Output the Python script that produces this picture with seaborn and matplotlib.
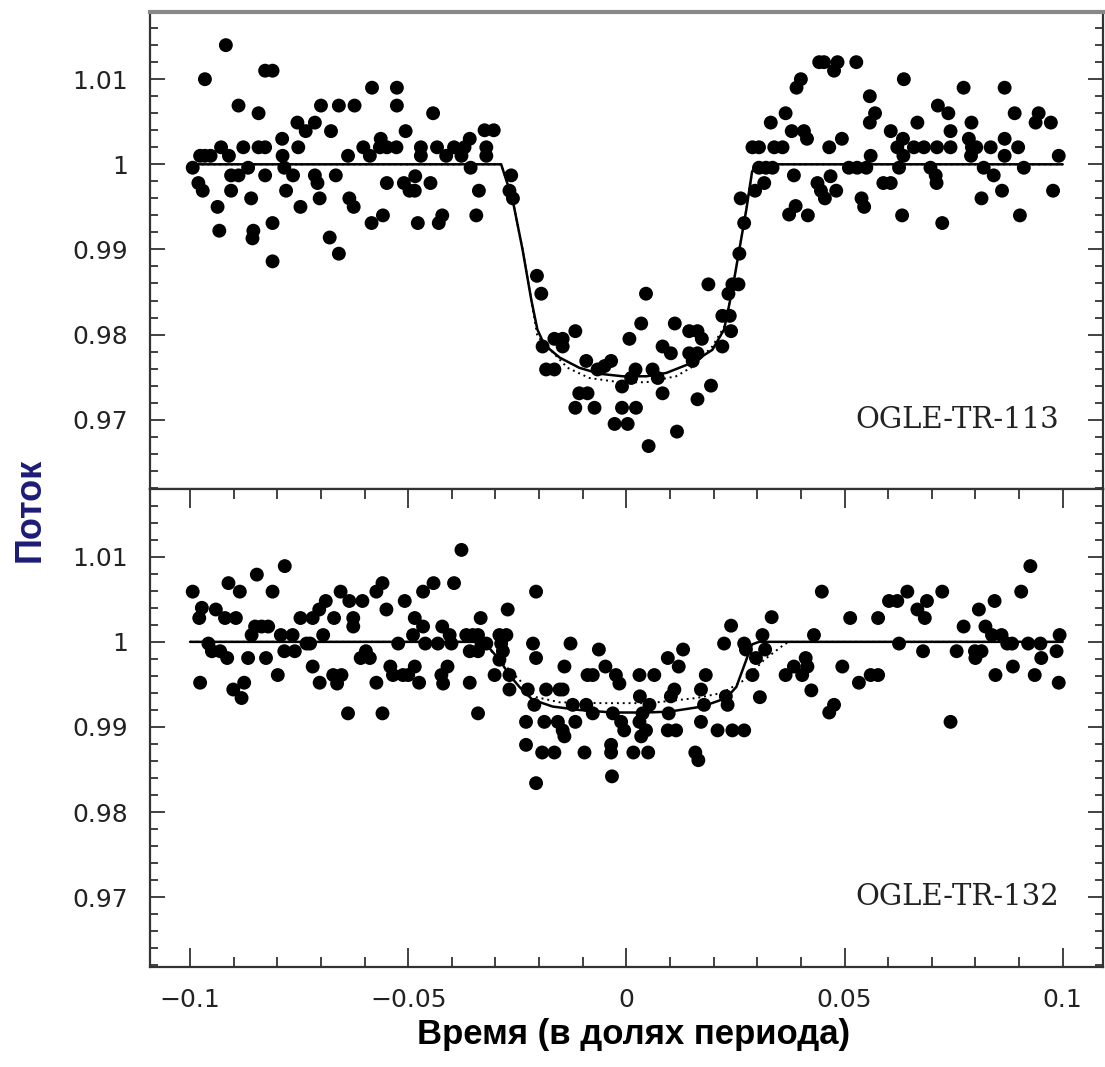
import numpy as np
import pandas as pd
import seaborn as sns
import matplotlib.pyplot as plt
from matplotlib.ticker import MultipleLocator, FuncFormatter

# OGLE-TR-113 photometry (phase, flux)
x_113 = [-0.0994, -0.0981, -0.0971, -0.0966, -0.0977, -0.0966, -0.0953, -0.0937, -0.0933, -0.0929,
         -0.0918, -0.0911, -0.0906, -0.0889, -0.0906, -0.0889, -0.0878, -0.0867, -0.0860, -0.0855,
         -0.0857, -0.0843, -0.0843, -0.0828, -0.0828, -0.0828, -0.0811, -0.0811, -0.0811, -0.0789,
         -0.0788, -0.0784, -0.0780, -0.0764, -0.0752, -0.0754, -0.0735, -0.0747, -0.0714, -0.0714,
         -0.0708, -0.0703, -0.0700, -0.0680, -0.0677, -0.0666, -0.0659, -0.0659, -0.0638, -0.0635,
         -0.0625, -0.0623, -0.0603, -0.0588, -0.0583, -0.0584, -0.0563, -0.0565, -0.0549, -0.0527,
         -0.0558, -0.0549, -0.0526, -0.0526, -0.0506, -0.0510, -0.0497, -0.0485, -0.0484, -0.0478,
         -0.0471, -0.0471, -0.0449, -0.0443, -0.0434, -0.0430, -0.0422, -0.0413, -0.0395, -0.0378,
         -0.0359, -0.0371, -0.0357, -0.0338, -0.0344, -0.0321, -0.0321, -0.0325, -0.0304,
         -0.0264, -0.0268, -0.0260, -0.0205, -0.0195, -0.0117, -0.0192, -0.0165, -0.0146, -0.0146,
         -0.0184, -0.0165, -0.0092, -0.0066, -0.0050, -0.0035, -0.0108, -0.0089, -0.0117, -0.0073,
         -0.0027, 0.0003, -0.0010, 0.0022, -0.0010, 0.0007, 0.0021, 0.0011, 0.0034, 0.0045,
         0.0051, 0.0060, 0.0072, 0.0083, 0.0083, 0.0102, 0.0111, 0.0116, 0.0144, 0.0163,
         0.0173, 0.0144, 0.0152, 0.0163, 0.0163, 0.0188, 0.0194, 0.0220, 0.0237, 0.0220,
         0.0240, 0.0234, 0.0243, 0.0257, 0.0259, 0.0270, 0.0262, 0.0295, 0.0316, 0.0304,
         0.0335, 0.0373, 0.0388, 0.0384,
         0.0289, 0.0304, 0.0339, 0.0358, 0.0320, 0.0331, 0.0365, 0.0379, 0.0390, 0.0400,
         0.0416, 0.0407, 0.0414, 0.0442, 0.0453, 0.0476, 0.0484, 0.0465, 0.0468, 0.0481,
         0.0438, 0.0446, 0.0455, 0.0494, 0.0527, 0.0510, 0.0529, 0.0550, 0.0539, 0.0545,
         0.0558, 0.0560, 0.0558, 0.0570, 0.0589, 0.0606, 0.0606, 0.0621, 0.0634, 0.0636,
         0.0625, 0.0635, 0.0632, 0.0667, 0.0659, 0.0682, 0.0697, 0.0709, 0.0711, 0.0714,
         0.0738, 0.0712, 0.0724, 0.0743, 0.0743, 0.0773, 0.0791, 0.0785, 0.0792, 0.0802,
         0.0790, 0.0819, 0.0814, 0.0835, 0.0842, 0.0861, 0.0867, 0.0867, 0.0867, 0.0898,
         0.0890, 0.0902, 0.0911, 0.0938, 0.0945, 0.0973, 0.0978, 0.0991]
f_113 = [0.9996, 0.9978, 0.9969, 1.0100, 1.0010, 1.0010, 1.0010, 0.9950, 0.9922, 1.0020,
         1.0140, 1.0010, 0.9987, 0.9987, 0.9969, 1.0069, 1.0020, 0.9996, 0.9960, 0.9922,
         0.9913, 1.0060, 1.0020, 1.0020, 0.9987, 1.0110, 1.0110, 0.9931, 0.9886, 1.0030,
         1.0010, 0.9996, 0.9969, 0.9987, 1.0020, 1.0049, 1.0039, 0.9950, 1.0049, 0.9987,
         0.9978, 0.9960, 1.0069, 0.9914, 1.0039, 0.9987, 1.0069, 0.9895, 1.0010, 0.9960,
         0.9950, 1.0069, 1.0020, 1.0010, 1.0090, 0.9931, 1.0030, 1.0020, 1.0020, 1.0020,
         0.9940, 0.9978, 1.0090, 1.0069, 1.0039, 0.9978, 0.9969, 0.9969, 0.9986, 0.9931,
         1.0020, 1.0010, 0.9978, 1.0060, 1.0020, 0.9931, 0.9940, 1.0010, 1.0020, 1.0010,
         1.0030, 1.0020, 0.9996, 0.9969, 0.9940, 1.0020, 1.0010, 1.0040, 1.0040,
         0.9987, 0.9969, 0.9960, 0.9869, 0.9848, 0.9804, 0.9786, 0.9795, 0.9795, 0.9786,
         0.9759, 0.9759, 0.9769, 0.9759, 0.9763, 0.9769, 0.9731, 0.9731, 0.9714, 0.9714,
         0.9695, 0.9695, 0.9714, 0.9714, 0.9739, 0.9795, 0.9759, 0.9749, 0.9813, 0.9848,
         0.9669, 0.9759, 0.9749, 0.9731, 0.9786, 0.9778, 0.9813, 0.9686, 0.9804, 0.9804,
         0.9795, 0.9778, 0.9769, 0.9778, 0.9724, 0.9859, 0.9740, 0.9822, 0.9822, 0.9786,
         0.9804, 0.9848, 0.9859, 0.9859, 0.9895, 0.9931, 0.9960, 0.9969, 0.9978, 0.9996,
         0.9996, 0.9941, 0.9951, 0.9987,
         1.0020, 1.0020, 1.0020, 1.0020, 0.9996, 1.0049, 1.0060, 1.0039, 1.0090, 1.0100,
         0.9940, 1.0039, 1.0030, 1.0120, 1.0120, 1.0110, 1.0120, 1.0020, 0.9986, 0.9969,
         0.9978, 0.9969, 0.9960, 1.0030, 1.0120, 0.9996, 0.9996, 0.9996, 0.9960, 0.9950,
         1.0080, 1.0010, 1.0049, 1.0060, 0.9978, 0.9978, 1.0039, 1.0020, 1.0030, 1.0100,
         0.9996, 1.0010, 0.9940, 1.0049, 1.0020, 1.0020, 0.9996, 0.9987, 0.9978, 1.0069,
         1.0060, 1.0020, 0.9931, 1.0039, 1.0020, 1.0090, 1.0049, 1.0030, 1.0020, 1.0020,
         1.0010, 0.9996, 0.9960, 1.0020, 0.9987, 0.9969, 1.0090, 1.0030, 1.0010, 1.0020,
         1.0060, 0.9940, 0.9996, 1.0049, 1.0060, 1.0049, 0.9969, 1.0010]

# OGLE-TR-132 photometry
x_132 = [-0.0994, -0.0977, -0.0973, -0.0979, -0.0958, -0.0950, -0.0931, -0.0941, -0.0920, -0.0895,
         -0.0912, -0.0915, -0.0886, -0.0901, -0.0882, -0.0876, -0.0867, -0.0847, -0.0859, -0.0851,
         -0.0836, -0.0821, -0.0826, -0.0811, -0.0799, -0.0792, -0.0784, -0.0765, -0.0760, -0.0783,
         -0.0747, -0.0733, -0.0725, -0.0719, -0.0719, -0.0704, -0.0689, -0.0703, -0.0695, -0.0670,
         -0.0672, -0.0653, -0.0663, -0.0655, -0.0638, -0.0635, -0.0626, -0.0626, -0.0605, -0.0609,
         -0.0597, -0.0588, -0.0573, -0.0559, -0.0573, -0.0559, -0.0550, -0.0541, -0.0535, -0.0512,
         -0.0500, -0.0485, -0.0523, -0.0508, -0.0485, -0.0489, -0.0466, -0.0475, -0.0466, -0.0461,
         -0.0442, -0.0432, -0.0422, -0.0405, -0.0401, -0.0424, -0.0420, -0.0410, -0.0395, -0.0378,
         -0.0367, -0.0352, -0.0340, -0.0359, -0.0340, -0.0332, -0.0321, -0.0359, -0.0340, -0.0334,
         -0.0302, -0.0291, -0.0275, -0.0287, -0.0283, -0.0291, -0.0272, -0.0268, -0.0268, -0.0226,
         -0.0230, -0.0230, -0.0207, -0.0211, -0.0207, -0.0214, -0.0207, -0.0184, -0.0153, -0.0146,
         -0.0188, -0.0157, -0.0146, -0.0142, -0.0117, -0.0193, -0.0165, -0.0142, -0.0128, -0.0123,
         -0.0092, -0.0077, -0.0096, -0.0089, -0.0077, -0.0063, -0.0048, -0.0024, -0.0016, -0.0031,
         -0.0005, -0.0012, -0.0035, -0.0035, -0.0033, 0.0016, 0.0050, 0.0030, 0.0064, 0.0031,
         0.0053, 0.0037, 0.0030, 0.0045, 0.0034, 0.0095, 0.0120, 0.0130, 0.0097, 0.0095,
         0.0114, 0.0110, 0.0102, 0.0158, 0.0165, 0.0171, 0.0171, 0.0178, 0.0182, 0.0209,
         0.0243, 0.0270, 0.0224, 0.0240, 0.0228, 0.0232, 0.0270, 0.0274, 0.0289, 0.0297,
         0.0306, 0.0312, 0.0318, 0.0333, 0.0365, 0.0384,
         0.0430, 0.0448, 0.0403, 0.0411, 0.0415, 0.0424, 0.0465, 0.0476, 0.0495, 0.0513,
         0.0533, 0.0560, 0.0577, 0.0577, 0.0602, 0.0621, 0.0625, 0.0644, 0.0667, 0.0684,
         0.0689, 0.0680, 0.0724, 0.0743, 0.0757, 0.0773, 0.0799, 0.0800, 0.0814, 0.0808,
         0.0823, 0.0844, 0.0838, 0.0860, 0.0846, 0.0873, 0.0884, 0.0886, 0.0905, 0.0926,
         0.0921, 0.0949, 0.0936, 0.0951, 0.0986, 0.0993, 0.0991]
f_132 = [1.0059, 0.9952, 1.0040, 1.0028, 0.9998, 0.9989, 0.9989, 1.0038, 1.0028, 1.0028,
         1.0069, 0.9981, 1.0059, 0.9944, 0.9934, 0.9952, 0.9981, 1.0079, 1.0008, 1.0018,
         1.0018, 1.0018, 0.9981, 1.0059, 0.9961, 1.0008, 0.9989, 1.0008, 0.9989, 1.0089,
         1.0028, 0.9998, 0.9998, 0.9971, 1.0028, 1.0038, 1.0048, 0.9952, 1.0008, 1.0028,
         0.9961, 0.9961, 0.9951, 1.0059, 0.9916, 1.0048, 1.0028, 1.0018, 1.0048, 0.9981,
         0.9989, 0.9981, 1.0059, 1.0069, 0.9952, 0.9916, 1.0038, 0.9971, 0.9961, 0.9961,
         0.9961, 0.9971, 0.9998, 1.0048, 1.0028, 1.0008, 1.0018, 0.9952, 1.0059, 0.9998,
         1.0069, 0.9998, 1.0018, 1.0008, 0.9998, 0.9961, 0.9951, 0.9971, 1.0069, 1.0108,
         1.0008, 1.0008, 1.0008, 0.9989, 0.9989, 0.9998, 0.9998, 0.9952, 0.9916, 1.0028,
         0.9961, 1.0008, 1.0008, 0.9998, 0.9989, 0.9979, 1.0038, 0.9961, 0.9944, 0.9944,
         0.9906, 0.9879, 0.9834, 0.9926, 1.0059, 0.9998, 0.9981, 0.9944, 0.9944, 0.9944,
         0.9906, 0.9906, 0.9896, 0.9889, 0.9906, 0.9870, 0.9870, 0.9971, 0.9998, 0.9926,
         0.9926, 0.9916, 0.9870, 0.9961, 0.9961, 0.9991, 0.9971, 0.9961, 0.9951, 0.9916,
         0.9896, 0.9906, 0.9879, 0.9870, 0.9842, 0.9870, 0.9870, 0.9961, 0.9961, 0.9936,
         0.9926, 0.9916, 0.9906, 0.9896, 0.9889, 0.9981, 0.9971, 0.9991, 0.9916, 0.9896,
         0.9896, 0.9944, 0.9936, 0.9870, 0.9861, 0.9944, 0.9906, 0.9926, 0.9961, 0.9896,
         0.9896, 0.9896, 0.9998, 1.0019, 0.9936, 0.9926, 0.9998, 0.9991, 0.9961, 0.9981,
         0.9935, 1.0008, 0.9991, 1.0029, 0.9961, 0.9971,
         1.0008, 1.0059, 0.9961, 0.9981, 0.9971, 0.9943, 0.9917, 0.9926, 0.9971, 1.0028,
         0.9952, 0.9961, 0.9961, 1.0028, 1.0048, 1.0048, 0.9998, 1.0059, 1.0038, 1.0028,
         1.0048, 0.9989, 1.0059, 0.9906, 0.9989, 1.0018, 0.9989, 0.9981, 0.9989, 1.0038,
         1.0018, 1.0048, 1.0008, 1.0008, 0.9961, 0.9998, 0.9998, 0.9971, 1.0059, 1.0089,
         0.9998, 0.9998, 0.9961, 0.9981, 0.9989, 1.0008, 0.9952]

# model curves (solid and dotted)
mx_113 = [-0.1, -0.0287, -0.0261, -0.0238, -0.0218, -0.0204, -0.0188, -0.0153, -0.0108, -0.0062,
          -0.0009, 0.0046, 0.0092, 0.0151, 0.0197, 0.0224, 0.0243, 0.0259, 0.0275, 0.0288, 0.0297, 0.1]
my_113 = [1.0, 1.0, 0.9959, 0.9900, 0.9841, 0.9806, 0.9788, 0.9773, 0.9761, 0.9754,
          0.9751, 0.9751, 0.9755, 0.9767, 0.9782, 0.9806, 0.9853, 0.9900, 0.9947, 0.9991, 1.0, 1.0]
dx_113 = [-0.1, -0.0287, -0.0261, -0.0238, -0.0218, -0.0204, -0.0135, -0.0085, -0.0016, 0.0046,
          0.0114, 0.0151, 0.0197, 0.0224, 0.0243, 0.0259, 0.0275, 0.0288, 0.0297, 0.1]
dy_113 = [1.0, 1.0, 0.9959, 0.9900, 0.9841, 0.9798, 0.9761, 0.9749, 0.9744, 0.9744,
          0.9751, 0.9762, 0.9786, 0.9809, 0.9853, 0.9900, 0.9947, 0.9991, 1.0, 1.0]

mx_132 = [-0.1, -0.0340, -0.0318, -0.0291, -0.0268, -0.0245, -0.0215, -0.0169, -0.0108, -0.0032,
          0.0046, 0.0098, 0.0174, 0.0229, 0.0252, 0.0275, 0.0288, 0.0304, 0.1]
my_132 = [1.0, 1.0, 0.9995, 0.9979, 0.9961, 0.9947, 0.9932, 0.9924, 0.9920, 0.9917,
          0.9917, 0.9918, 0.9924, 0.9934, 0.9947, 0.9979, 0.9997, 1.0, 1.0]
dx_132 = [-0.1, -0.0350, -0.0313, -0.0268, -0.0206, -0.0153, -0.0055, 0.0053, 0.0160, 0.0220,
          0.0270, 0.0316, 0.0362, 0.0373, 0.1]
dy_132 = [1.0, 1.0, 0.9991, 0.9967, 0.9935, 0.9929, 0.9928, 0.9928, 0.9934, 0.9940,
          0.9955, 0.9979, 0.9997, 1.0, 1.0]

names = ['OGLE-TR-113', 'OGLE-TR-132']

sns.set_theme(style='white')
plt.rcParams['font.family'] = ['DejaVu Sans']

fig, axes = plt.subplots(2, 1, sharex=True, figsize=(11.05, 10.67), dpi=100)
fig.subplots_adjust(left=0.1357, right=0.998, top=0.9888, bottom=0.0937, hspace=0)

panels = [(x_113, f_113, mx_113, my_113, dx_113, dy_113),
          (x_132, f_132, mx_132, my_132, dx_132, dy_132)]

for ax, (xs, fs, mx, my, dx, dy), name in zip(axes, panels, names):
    df = pd.DataFrame({'phase': xs, 'flux': fs})
    sns.scatterplot(data=df, x='phase', y='flux', ax=ax, color='black', s=100,
                    edgecolor='none', zorder=3)
    sns.lineplot(x=dx, y=dy, ax=ax, sort=False, estimator=None, color='black',
                 lw=1.4, linestyle=(0, (1, 2)), zorder=2)
    sns.lineplot(x=mx, y=my, ax=ax, sort=False, estimator=None, color='black',
                 lw=1.8, zorder=2)
    ax.set_xlim(-0.1092, 0.1092)
    ax.set_ylim(0.9618, 1.0179)
    ax.set_xlabel('')
    ax.set_ylabel('')
    ax.text(0.0991, 0.970, name, ha='right', va='center', fontsize=21,
            family='DejaVu Serif', color='#222222')

    ax.yaxis.set_major_locator(MultipleLocator(0.01))
    ax.yaxis.set_minor_locator(MultipleLocator(0.002))
    ax.xaxis.set_major_locator(MultipleLocator(0.05))
    ax.xaxis.set_minor_locator(MultipleLocator(0.01))
    ax.yaxis.set_major_formatter(FuncFormatter(lambda v, p: '%g' % round(v, 4)))
    ax.xaxis.set_major_formatter(FuncFormatter(lambda v, p: ('%g' % round(v, 4)).replace('-', '\u2212')))
    ax.tick_params(which='both', direction='in', left=True, right=True, colors='#333333',
                   labelcolor='#222222', width=1.3)
    ax.tick_params(axis='y', which='major', length=11, labelsize=18, pad=16)
    ax.tick_params(axis='y', which='minor', length=6)
    for sp in ax.spines.values():
        sp.set_color('#333333')
        sp.set_linewidth(1.6)

axes[0].tick_params(axis='x', which='both', bottom=False, top=False, labelbottom=False)
axes[1].tick_params(axis='x', which='both', bottom=True, top=True)
axes[1].tick_params(axis='x', which='major', length=14, labelsize=18, pad=15)
axes[1].tick_params(axis='x', which='minor', length=7)
axes[0].spines['top'].set_color('#888888')
axes[0].spines['top'].set_linewidth(3)

fig.text(0.027, 0.522, 'Поток', rotation=90, ha='center', va='center',
         fontsize=26, fontweight='bold', family='Liberation Sans', color='#1c1c78')
fig.text(0.573, 0.030, 'Время (в долях периода)', ha='center', va='center',
         fontsize=25, fontweight='bold', family='Liberation Sans', color='black')

fig.savefig('out.png', dpi=100)
